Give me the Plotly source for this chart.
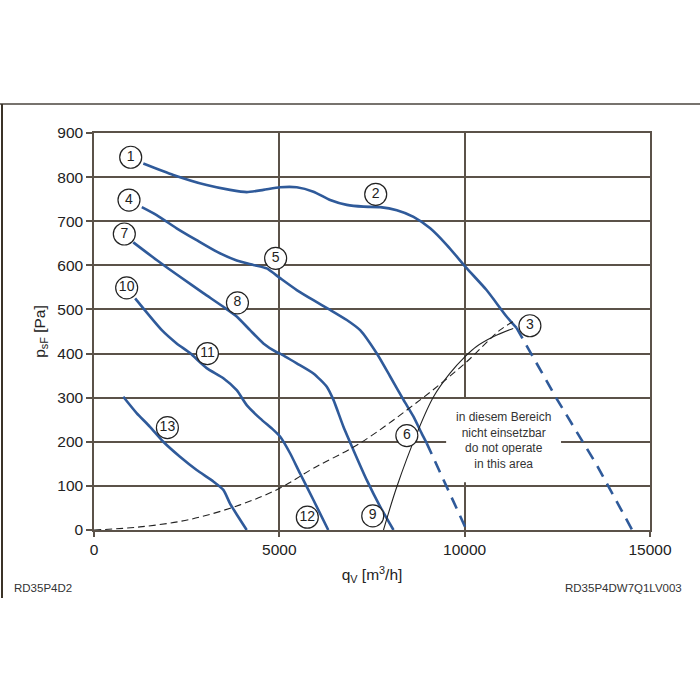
import plotly.graph_objects as go

# ---- data ----
c1_x = [1330, 2140, 3040, 3670, 4120, 4570, 5020, 5470, 5920, 6370, 6820, 7270, 7720, 8170, 8620, 9070, 9520, 10060, 10590, 11130, 11400]
c1_y = [831, 805, 782, 771, 766, 771, 777, 777, 767, 748, 737, 733, 732, 725, 710, 684, 646, 593, 544, 484, 458]
c1d_x = [11400, 12480, 13560, 14520]
c1d_y = [458, 298, 148, 0]

c4_x = [1290, 1690, 2230, 2770, 3310, 3850, 4300, 4660, 5020, 5470, 5920, 6370, 6820, 7180, 7630, 7990, 8350, 8620, 8840, 8975]
c4_y = [732, 714, 684, 657, 631, 611, 601, 593, 571, 544, 521, 499, 476, 453, 400, 348, 295, 257, 219, 197]
c4d_x = [8975, 9515, 10050]
c4d_y = [197, 98, 0]

c7_x = [1060, 1690, 2320, 2950, 3490, 3850, 4210, 4570, 4930, 5020, 5470, 5920, 6280, 6460, 6730, 7000, 7360, 7720, 8080]
c7_y = [652, 612, 574, 537, 506, 484, 453, 423, 403, 400, 378, 355, 325, 295, 234, 181, 113, 53, 0]

c10_x = [1110, 1830, 2230, 2590, 3040, 3490, 3850, 4120, 4480, 4840, 5020, 5290, 5560, 5920, 6320]
c10_y = [525, 453, 423, 401, 367, 344, 317, 283, 253, 227, 212, 174, 128, 68, 0]

c13_x = [790, 1150, 1510, 1870, 2320, 2770, 3220, 3490, 3670, 3890, 4120]
c13_y = [302, 265, 234, 200, 166, 136, 110, 91, 60, 30, 0]

sys_x = [0, 1240, 2590, 3940, 5020, 5920, 7180, 8800, 10010, 10950, 11300]
sys_y = [0, 7, 24, 57, 95, 140, 197, 295, 378, 453, 472]

lim_x = [7810, 8170, 8710, 9160, 9600, 10010, 10320, 10770, 11310]
lim_y = [0, 98, 219, 302, 355, 393, 416, 438, 457]

lab_text = ["1", "2", "3", "4", "5", "6", "7", "8", "9", "10", "11", "12", "13"]
lab_x = [990, 7600, 11760, 944, 4900, 8440, 818, 3870, 7520, 881, 3060, 5755, 1980]
lab_y = [845, 761, 463, 748, 616, 214, 671, 515, 32, 549, 400, 29, 232]

x_ticks = [0, 5000, 10000, 15000]
y_ticks = [0, 100, 200, 300, 400, 500, 600, 700, 800, 900]

BLUE = "#2f5a9a"
GRID = "#5b5249"
FONT = "Liberation Sans, Arial, sans-serif"

# plot area in page pixels: x 94..650, y 133..530
L, R, T, B = 94, 650, 133, 530
PW, PH = R - L, B - T

def px(x):
    return (x - L) / PW

def py(y):
    return (B - y) / PH

fig = go.Figure()

def blue(x, y, dash="solid", shape="spline"):
    line = dict(color=BLUE, width=2.6, dash=dash, shape=shape)
    if shape == "spline":
        line["smoothing"] = 0.6
    fig.add_trace(go.Scatter(x=x, y=y, mode="lines", line=line, hoverinfo="skip"))

blue(c1_x, c1_y)
blue(c1d_x, c1d_y, "12px,8px", "linear")
blue(c4_x, c4_y)
blue(c4d_x, c4d_y, "12px,8px", "linear")
blue(c7_x, c7_y)
blue(c10_x, c10_y)
blue(c13_x, c13_y)

fig.add_trace(go.Scatter(x=sys_x, y=sys_y, mode="lines", line=dict(color="#222222", width=1.1, dash="7px,4px", shape="spline"), hoverinfo="skip"))
fig.add_trace(go.Scatter(x=lim_x, y=lim_y, mode="lines", line=dict(color="#222222", width=1.1, shape="spline"), hoverinfo="skip"))

fig.add_trace(go.Scatter(
    x=lab_x, y=lab_y, mode="markers+text", text=lab_text, textposition="middle center",
    marker=dict(symbol="circle", size=22, color="white", line=dict(color="#222222", width=1.2)),
    textfont=dict(family=FONT, size=14, color="#222222"), hoverinfo="skip", cliponaxis=False))

fig.update_layout(
    width=700, height=700, showlegend=False,
    paper_bgcolor="white", plot_bgcolor="white",
    margin=dict(l=L, r=700 - R, t=T, b=700 - B),
    font=dict(family=FONT, color="#333333"),
    shapes=[
        dict(type="rect", xref="x", yref="y", x0=9500, x1=12600, y0=108, y1=297,
             fillcolor="white", line=dict(width=0), layer="between"),
        dict(type="line", xref="paper", yref="paper", x0=px(0), x1=px(700),
             y0=py(104), y1=py(104), line=dict(color="#4a443e", width=1.5)),
        dict(type="line", xref="paper", yref="paper", x0=px(2), x1=px(2),
             y0=py(104), y1=py(598), line=dict(color="#3b3328", width=2)),
    ],
    annotations=[
        dict(x=11040, y=203, xref="x", yref="y", showarrow=False,
             text="in diesem Bereich<br>nicht einsetzbar<br>do not operate<br>in this area",
             font=dict(family=FONT, size=12, color="#333333"), align="center"),
        dict(x=px(12), y=py(588), xref="paper", yref="paper", showarrow=False,
             text="RD35P4D2", xanchor="left", yanchor="middle",
             font=dict(family=FONT, size=11.5, color="#333333")),
        dict(x=px(684), y=py(588), xref="paper", yref="paper", showarrow=False,
             text="RD35P4DW7Q1LV003", xanchor="right", yanchor="middle",
             font=dict(family=FONT, size=11.5, color="#333333")),
    ],
)

fig.update_xaxes(
    range=[0, 15000], tickvals=x_ticks, ticktext=[str(v) for v in x_ticks],
    showgrid=True, gridcolor=GRID, gridwidth=1.5, zeroline=False,
    showline=True, linecolor=GRID, linewidth=1.5, mirror=True,
    ticks="outside", ticklen=5, tickcolor=GRID, tickwidth=1.5,
    tickfont=dict(family=FONT, size=15.5, color="#222222"),
    title=dict(text="q<sub>V</sub> [m<sup>3</sup>/h]", font=dict(family=FONT, size=15.5, color="#222222"), standoff=12),
)
fig.update_yaxes(
    range=[0, 900], tickvals=y_ticks, ticktext=[str(v) for v in y_ticks],
    showgrid=True, gridcolor=GRID, gridwidth=1.5, zeroline=False,
    showline=True, linecolor=GRID, linewidth=1.5, mirror=True,
    ticks="outside", ticklen=6, tickcolor=GRID, tickwidth=1.5,
    tickfont=dict(family=FONT, size=15.5, color="#222222"),
    title=dict(text="p<sub>sF</sub> [Pa]", font=dict(family=FONT, size=15.5, color="#222222"), standoff=8),
)

fig.write_html("out.html")
